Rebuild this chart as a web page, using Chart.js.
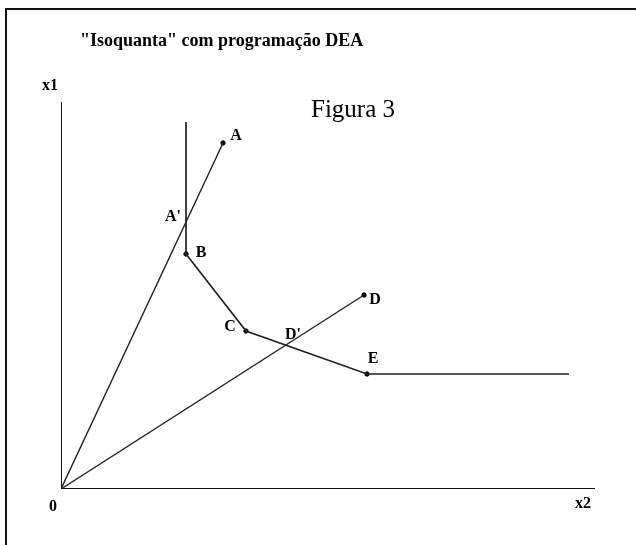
<!DOCTYPE html>
<html>
<head>
<meta charset="utf-8">
<script src="https://cdn.jsdelivr.net/npm/chart.js@4.4.1/dist/chart.umd.min.js"></script>
<style>
    html, body { margin: 0; padding: 0; background: #fff; }
    #wrap { width: 636px; height: 545px; position: relative; }
</style>
</head>
<body>
<div id="wrap"><canvas id="isoChart"></canvas></div>
<script>
// chart values (arbitrary input units, origin at 0,0)
const axisMax = { x2: 534, x1: 387 };
const pointNames = ['A', 'B', 'C', 'D', 'E'];
const pointX2 = [162, 125, 185, 303, 306];
const pointX1 = [346, 235, 158, 194, 115];
// the efficient frontier (isoquant): vertical arm, B, C, E, horizontal arm
const frontierX2 = [125, 125, 185, 306, 508];
const frontierX1 = [367, 235, 158, 115, 115];
// projected points on the frontier
const projNames = ["A'", "D'"];
const projX2 = [124, 226];
const projX1 = [266, 145];

const toXY = (xs, ys) => xs.map((x, i) => ({ x: x, y: ys[i] }));

// label offsets in pixels, relative to the point
const labelOffsets = {
    'A': [13, -7], 'B': [15, -1], 'C': [-16, -4], 'D': [11, 5], 'E': [6, -15],
    "A'": [-12, -6], "D'": [6, -9]
};

const SERIF = '"Liberation Serif", "Times New Roman", serif';

const textPlugin = {
    id: 'isoText',
    afterDraw(chart) {
        const ctx = chart.ctx;
        const xs = chart.scales.x;
        const ys = chart.scales.y;
        ctx.save();

        // frame
        ctx.strokeStyle = '#111';
        ctx.lineWidth = 2;
        ctx.beginPath();
        ctx.moveTo(6, 545);
        ctx.lineTo(6, 9);
        ctx.lineTo(636, 9);
        ctx.stroke();

        ctx.fillStyle = '#000';
        ctx.textBaseline = 'middle';
        ctx.textAlign = 'left';
        ctx.font = 'bold 18px ' + SERIF;
        ctx.fillText('"Isoquanta" com programação DEA', 80, 41);

        ctx.font = '25px ' + SERIF;
        ctx.fillText('Figura 3', 311, 110);

        ctx.textAlign = 'center';
        ctx.font = 'bold 16px ' + SERIF;
        ctx.fillText('x1', 50, 86);
        ctx.fillText('x2', xs.getPixelForValue(axisMax.x2) - 12, ys.getPixelForValue(0) + 15);
        ctx.fillText('0', xs.getPixelForValue(0) - 8, ys.getPixelForValue(0) + 18);

        ctx.font = 'bold 16px ' + SERIF;
        const names = pointNames.concat(projNames);
        const px = pointX2.concat(projX2);
        const py = pointX1.concat(projX1);
        names.forEach((n, i) => {
            const off = labelOffsets[n];
            ctx.fillText(n, xs.getPixelForValue(px[i]) + off[0], ys.getPixelForValue(py[i]) + off[1]);
        });
        ctx.restore();
    }
};

const ctx = document.getElementById('isoChart').getContext('2d');
new Chart(ctx, {
    type: 'scatter',
    data: {
        datasets: [
            {
                // axes
                data: [{ x: 0, y: axisMax.x1 }, { x: 0, y: 0 }, { x: axisMax.x2, y: 0 }],
                showLine: true,
                borderColor: '#111',
                borderWidth: 2,
                pointRadius: 0,
            },
            {
                // ray O-A
                data: [{ x: 0, y: 0 }, { x: pointX2[0], y: pointX1[0] }],
                showLine: true,
                borderColor: '#222',
                borderWidth: 1.4,
                pointRadius: 0,
            },
            {
                // ray O-D
                data: [{ x: 0, y: 0 }, { x: pointX2[3], y: pointX1[3] }],
                showLine: true,
                borderColor: '#222',
                borderWidth: 1.4,
                pointRadius: 0,
            },
            {
                // isoquant
                data: toXY(frontierX2, frontierX1),
                showLine: true,
                borderColor: '#222',
                borderWidth: 1.7,
                pointRadius: 0,
            },
            {
                // DMUs
                data: toXY(pointX2, pointX1),
                showLine: false,
                backgroundColor: '#000',
                borderColor: '#000',
                pointRadius: 2.2,
            },
        ],
    },
    options: {
        responsive: true,
        maintainAspectRatio: false,
        animation: false,
        layout: {
            padding: { left: 61, right: 41, top: 102, bottom: 56 },
        },
        scales: {
            x: { type: 'linear', min: 0, max: axisMax.x2, display: false },
            y: { type: 'linear', min: 0, max: axisMax.x1, display: false },
        },
        plugins: {
            legend: { display: false },
            tooltip: { enabled: false },
        },
    },
    plugins: [textPlugin],
});
</script>
</body>
</html>
